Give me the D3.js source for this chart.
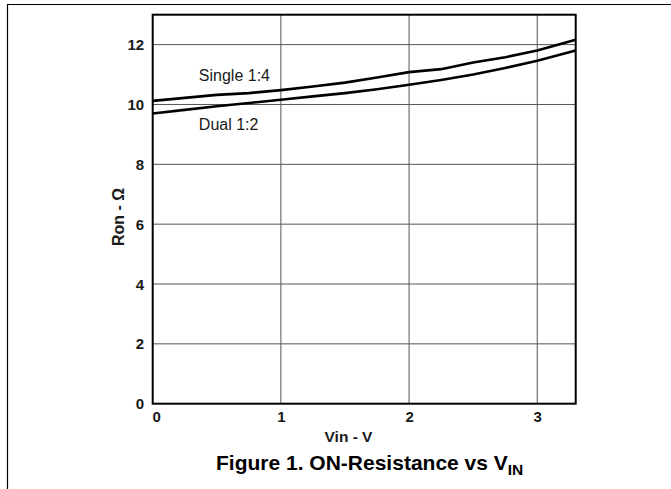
<!DOCTYPE html>
<html>
<head>
<meta charset="utf-8">
<script src="https://cdn.jsdelivr.net/npm/d3@7"></script>
<style>
  body { margin: 0; background: #fff; }
  text { font-family: "Liberation Sans", Arial, sans-serif; }
</style>
</head>
<body>
<svg id="chart" width="671" height="489"></svg>
<script>
// values
var vin = [0, 0.25, 0.5, 0.75, 1, 1.25, 1.5, 1.75, 2, 2.25, 2.5, 2.75, 3, 3.3];
var single14 = [10.12, 10.22, 10.32, 10.38, 10.48, 10.6, 10.73, 10.9, 11.08, 11.18, 11.4, 11.58, 11.8, 12.16];
var dual12 = [9.7, 9.82, 9.94, 10.05, 10.16, 10.27, 10.38, 10.51, 10.66, 10.82, 11.0, 11.22, 11.46, 11.8];
var xTicks = [0, 1, 2, 3];
var yTicks = [0, 2, 4, 6, 8, 10, 12];
var labels = [
    { text: "Single 1:4", x: 0.36, y: 10.8 },
    { text: "Dual 1:2", x: 0.36, y: 9.15 }
];

(function () {
    var svg = d3.select("#chart");

    var pl = 152.7, pr = 575.7, pt = 14.7, pb = 403.7;

    var x = d3.scaleLinear().domain([0, 3.3]).range([pl, pr]);
    var y = d3.scaleLinear().domain([0, 13]).range([pb, pt]);

    // outer frame (top and left edges only)
    svg.append("path")
        .attr("d", "M 7.5 489 L 7.5 4.5 L 671 4.5")
        .attr("fill", "none")
        .attr("stroke", "#000")
        .attr("stroke-width", 1.2);

    // grid
    svg.selectAll(".vgrid")
        .data(xTicks.filter(function (d) { return d > 0; }))
        .enter()
        .append("line")
        .attr("class", "vgrid")
        .attr("x1", function (d) { return x(d); })
        .attr("x2", function (d) { return x(d); })
        .attr("y1", pt)
        .attr("y2", pb)
        .attr("stroke", "#555")
        .attr("stroke-width", 1);

    svg.selectAll(".hgrid")
        .data(yTicks.filter(function (d) { return d > 0; }))
        .enter()
        .append("line")
        .attr("class", "hgrid")
        .attr("x1", pl)
        .attr("x2", pr)
        .attr("y1", function (d) { return y(d); })
        .attr("y2", function (d) { return y(d); })
        .attr("stroke", "#555")
        .attr("stroke-width", 1);

    // plot border
    svg.append("rect")
        .attr("x", pl)
        .attr("y", pt)
        .attr("width", pr - pl)
        .attr("height", pb - pt)
        .attr("fill", "none")
        .attr("stroke", "#000")
        .attr("stroke-width", 2);

    // tick labels
    svg.selectAll(".ytick")
        .data(yTicks)
        .enter()
        .append("text")
        .attr("class", "ytick")
        .attr("x", pl - 8.5)
        .attr("y", function (d) { return y(d) + 5.5; })
        .attr("text-anchor", "end")
        .attr("font-size", 15)
        .attr("font-weight", "bold")
        .attr("fill", "#1a1a1a")
        .text(function (d) { return d; });

    svg.selectAll(".xtick")
        .data(xTicks)
        .enter()
        .append("text")
        .attr("class", "xtick")
        .attr("x", function (d) { return d === 0 ? x(d) + 4 : x(d) + 0.5; })
        .attr("y", pb + 18)
        .attr("text-anchor", "middle")
        .attr("font-size", 15)
        .attr("font-weight", "bold")
        .attr("fill", "#1a1a1a")
        .text(function (d) { return d; });

    // curves
    var line = d3.line()
        .x(function (d) { return x(d[0]); })
        .y(function (d) { return y(d[1]); });

    [single14, dual12].forEach(function (s) {
        svg.append("path")
            .datum(vin.map(function (v, i) { return [v, s[i]]; }))
            .attr("d", line)
            .attr("fill", "none")
            .attr("stroke", "#000")
            .attr("stroke-width", 2.6);
    });

    svg.selectAll(".lbl")
        .data(labels)
        .enter()
        .append("text")
        .attr("class", "lbl")
        .attr("x", function (d) { return x(d.x); })
        .attr("y", function (d) { return y(d.y); })
        .attr("font-size", 16)
        .attr("fill", "#1a1a1a")
        .text(function (d) { return d.text; });

    // axis titles
    svg.append("text")
        .attr("x", 348.5)
        .attr("y", 442)
        .attr("text-anchor", "middle")
        .attr("font-size", 15.5)
        .attr("font-weight", "bold")
        .attr("fill", "#1a1a1a")
        .text("Vin - V");

    svg.append("text")
        .attr("transform", "translate(123.5,217) rotate(-90)")
        .attr("text-anchor", "middle")
        .attr("font-size", 16)
        .attr("font-weight", "bold")
        .attr("fill", "#1a1a1a")
        .text("Ron - \u03A9");

    var title = svg.append("text")
        .attr("x", 216)
        .attr("y", 470)
        .attr("text-anchor", "start")
        .attr("font-size", 21)
        .attr("font-weight", "bold")
        .attr("fill", "#000");
    title.append("tspan").text("Figure 1. ON-Resistance vs V");
    title.append("tspan").attr("dy", 5).attr("font-size", 15.5).text("IN");
})();
</script>
</body>
</html>
